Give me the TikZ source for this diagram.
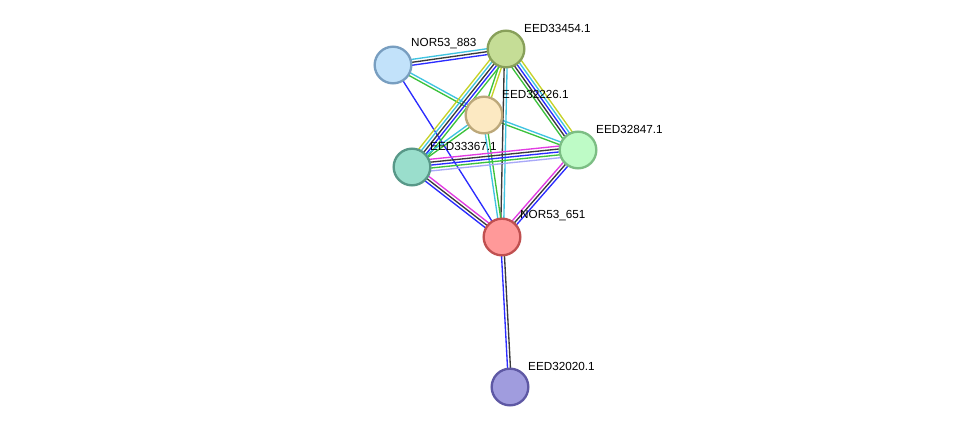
\documentclass[tikz,border=0pt]{standalone}
\usepackage{fontspec}
\setmainfont{Liberation Sans}
\usetikzlibrary{calc,backgrounds}

\definecolor{sblack}{HTML}{3A3A3A}
\definecolor{sblue}{HTML}{2B2BFF}
\definecolor{scyan}{HTML}{3FC3E0}
\definecolor{smag}{HTML}{E23CE2}
\definecolor{sgreen}{HTML}{3CC23C}
\definecolor{syellow}{HTML}{C6D228}
\definecolor{slav}{HTML}{A8A8F8}

% one line per evidence channel, shifted sideways
\newcommand{\ppiedge}[3]{\foreach \col/\off in {#3}{\draw[ppi,\col] ($(#1)!\off pt!90:(#2)$) -- ($(#2)!\off pt!-90:(#1)$);}}

\begin{document}
\begin{tikzpicture}[x=0.3mm,y=-0.3mm]

\tikzstyle{prot} = [circle,draw,line width=2pt,minimum size=11mm,inner sep=0]
\tikzstyle{lbl} = [anchor=west,inner sep=0,font=\fontsize{10}{12}\selectfont,text=black]
\tikzstyle{ppi} = [line width=1.15pt]

\useasboundingbox (0,0) rectangle (976,432);

\node[prot,fill={rgb,255:red,194;green,226;blue,250},draw={rgb,255:red,120;green,158;blue,192}] (n883) at (393,65) {};
\node[prot,fill={rgb,255:red,197;green,221;blue,150},draw={rgb,255:red,136;green,160;blue,90}] (n33454) at (506,49) {};
\node[prot,fill={rgb,255:red,252;green,233;blue,194},draw={rgb,255:red,188;green,168;blue,122}] (n32226) at (484,115) {};
\node[prot,fill={rgb,255:red,154;green,222;blue,204},draw={rgb,255:red,88;green,152;blue,136}] (n33367) at (412,167) {};
\node[prot,fill={rgb,255:red,190;green,251;blue,198},draw={rgb,255:red,124;green,190;blue,132}] (n32847) at (578,150) {};
\node[prot,fill={rgb,255:red,255;green,153;blue,153},draw={rgb,255:red,192;green,80;blue,80}] (n651) at (502,237) {};
\node[prot,fill={rgb,255:red,160;green,156;blue,222},draw={rgb,255:red,94;green,88;blue,164}] (n32020) at (510,387) {};

\node[lbl] (l883) at ($(n883)+(18,-21)$) {NOR53\_883};
\node[lbl] (l33454) at ($(n33454)+(18,-21)$) {EED33454.1};
\node[lbl] (l32226) at ($(n32226)+(18,-21)$) {EED32226.1};
\node[lbl] (l33367) at ($(n33367)+(18,-21)$) {EED33367.1};
\node[lbl] (l32847) at ($(n32847)+(18,-21)$) {EED32847.1};
\node[lbl] (l651) at ($(n651)+(18,-21)$) {NOR53\_651};
\node[lbl] (l32020) at ($(n32020)+(18,-21)$) {EED32020.1};

\begin{scope}[on background layer]
\ppiedge{n883}{n33454}{scyan/2.5,sblack/0,sblue/-2.5}
\ppiedge{n883}{n32226}{scyan/1.25,sgreen/-1.25}
\ppiedge{n32226}{n32847}{scyan/1.25,sgreen/-1.25}
\ppiedge{n883}{n651}{sblue/0}
\ppiedge{n33454}{n33367}{syellow/-5,scyan/-2.5,sblack/0,sblue/2.5,sgreen/5}
\ppiedge{n33454}{n32226}{syellow/1.25,sgreen/-1.25}
\ppiedge{n33454}{n651}{sblack/-1.25,scyan/1.25}
\ppiedge{n33454}{n32847}{syellow/5,scyan/2.5,sblue/0,sblack/-2.5,sgreen/-5}
\ppiedge{n32226}{n33367}{sgreen/1.25,scyan/-1.25}
\ppiedge{n32226}{n651}{sgreen/1.25,scyan/-1.25}
\ppiedge{n33367}{n32847}{smag/5,sblack/2.5,sblue/0,sgreen/-2.5,slav/-5}
\ppiedge{n33367}{n651}{smag/2.5,sblack/0,sblue/-2.5}
\ppiedge{n32847}{n651}{smag/-2.5,sblack/0,sblue/2.5}
\ppiedge{n651}{n32020}{sblue/-1.25,sblack/1.25}
\end{scope}

\end{tikzpicture}
\end{document}
